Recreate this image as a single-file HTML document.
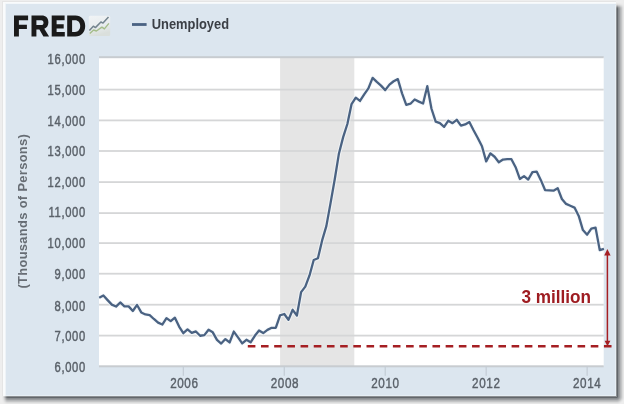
<!DOCTYPE html><html><head><meta charset="utf-8"><style>
html,body{margin:0;padding:0;width:624px;height:404px;overflow:hidden;background:#eeeeee}
svg{position:absolute;left:0;top:0;display:block;will-change:transform}
</style></head><body>
<svg width="624" height="404" viewBox="0 0 624 404" shape-rendering="auto">
<defs>
<linearGradient id="ico" x1="0" x2="0.3" y1="0" y2="1"><stop offset="0" stop-color="#f1f4f6"/><stop offset="0.6" stop-color="#e8ecee"/><stop offset="1" stop-color="#dadfdc"/></linearGradient>
</defs>
<rect x="0" y="0" width="624" height="404" fill="#eeeeee"/>
<rect x="2" y="1" width="614" height="395" fill="#e5e5e5"/>
<rect x="3" y="2" width="613" height="394" fill="#f9fbfc"/>
<rect x="5" y="3.5" width="611" height="392.5" fill="#eef3f7"/>
<rect x="616" y="9" width="1" height="387" fill="#8c8f92"/>
<rect x="616" y="3" width="1" height="1" fill="#e9e9e9"/>
<rect x="616" y="4" width="1" height="1" fill="#dfe0e0"/>
<rect x="616" y="5" width="1" height="1" fill="#cccdce"/>
<rect x="616" y="6" width="1" height="1" fill="#b3b5b7"/>
<rect x="616" y="7" width="1" height="1" fill="#9b9d9f"/>
<rect x="616" y="8" width="1" height="1" fill="#8f9294"/>
<rect x="617" y="9" width="1" height="387" fill="#62666a"/>
<rect x="617" y="3" width="1" height="1" fill="#e7e7e7"/>
<rect x="617" y="4" width="1" height="1" fill="#d9dada"/>
<rect x="617" y="5" width="1" height="1" fill="#bdbec0"/>
<rect x="617" y="6" width="1" height="1" fill="#9a9c9f"/>
<rect x="617" y="7" width="1" height="1" fill="#777a7e"/>
<rect x="617" y="8" width="1" height="1" fill="#666a6e"/>
<rect x="618" y="9" width="1" height="387" fill="#898c8f"/>
<rect x="618" y="3" width="1" height="1" fill="#e9e9e9"/>
<rect x="618" y="4" width="1" height="1" fill="#dfdfe0"/>
<rect x="618" y="5" width="1" height="1" fill="#cbcccd"/>
<rect x="618" y="6" width="1" height="1" fill="#b2b3b5"/>
<rect x="618" y="7" width="1" height="1" fill="#989b9d"/>
<rect x="618" y="8" width="1" height="1" fill="#8c8f92"/>
<rect x="619" y="9" width="1" height="387" fill="#9a9c9f"/>
<rect x="619" y="3" width="1" height="1" fill="#eaeaea"/>
<rect x="619" y="4" width="1" height="1" fill="#e1e2e2"/>
<rect x="619" y="5" width="1" height="1" fill="#d1d1d2"/>
<rect x="619" y="6" width="1" height="1" fill="#bcbdbe"/>
<rect x="619" y="7" width="1" height="1" fill="#a7a9ab"/>
<rect x="619" y="8" width="1" height="1" fill="#9d9fa1"/>
<rect x="620" y="9" width="1" height="387" fill="#b3b5b7"/>
<rect x="620" y="3" width="1" height="1" fill="#ebebeb"/>
<rect x="620" y="4" width="1" height="1" fill="#e5e5e6"/>
<rect x="620" y="5" width="1" height="1" fill="#d9dadb"/>
<rect x="620" y="6" width="1" height="1" fill="#cbcccd"/>
<rect x="620" y="7" width="1" height="1" fill="#bcbdbf"/>
<rect x="620" y="8" width="1" height="1" fill="#b5b7b8"/>
<rect x="621" y="9" width="1" height="387" fill="#c4c5c6"/>
<rect x="621" y="3" width="1" height="1" fill="#ececec"/>
<rect x="621" y="4" width="1" height="1" fill="#e8e8e8"/>
<rect x="621" y="5" width="1" height="1" fill="#dfe0e0"/>
<rect x="621" y="6" width="1" height="1" fill="#d5d6d6"/>
<rect x="621" y="7" width="1" height="1" fill="#cacbcc"/>
<rect x="621" y="8" width="1" height="1" fill="#c5c6c8"/>
<rect x="622" y="9" width="1" height="387" fill="#d9dada"/>
<rect x="622" y="3" width="1" height="1" fill="#ededed"/>
<rect x="622" y="4" width="1" height="1" fill="#ebebeb"/>
<rect x="622" y="5" width="1" height="1" fill="#e7e7e7"/>
<rect x="622" y="6" width="1" height="1" fill="#e1e2e2"/>
<rect x="622" y="7" width="1" height="1" fill="#dcdddd"/>
<rect x="622" y="8" width="1" height="1" fill="#dadadb"/>
<rect x="623" y="9" width="1" height="387" fill="#e6e6e6"/>
<rect x="623" y="3" width="1" height="1" fill="#eeeeee"/>
<rect x="623" y="4" width="1" height="1" fill="#ededed"/>
<rect x="623" y="5" width="1" height="1" fill="#ebebeb"/>
<rect x="623" y="6" width="1" height="1" fill="#e9e9e9"/>
<rect x="623" y="7" width="1" height="1" fill="#e7e7e7"/>
<rect x="623" y="8" width="1" height="1" fill="#e6e6e6"/>
<rect x="8" y="396" width="608" height="1" fill="#8c8f92"/>
<rect x="2" y="396" width="1" height="1" fill="#e9e9e9"/>
<rect x="3" y="396" width="1" height="1" fill="#dfe0e0"/>
<rect x="4" y="396" width="1" height="1" fill="#cccdce"/>
<rect x="5" y="396" width="1" height="1" fill="#b3b5b7"/>
<rect x="6" y="396" width="1" height="1" fill="#9b9d9f"/>
<rect x="7" y="396" width="1" height="1" fill="#8f9294"/>
<rect x="8" y="397" width="608" height="1" fill="#62666a"/>
<rect x="2" y="397" width="1" height="1" fill="#e7e7e7"/>
<rect x="3" y="397" width="1" height="1" fill="#d9dada"/>
<rect x="4" y="397" width="1" height="1" fill="#bdbec0"/>
<rect x="5" y="397" width="1" height="1" fill="#9a9c9f"/>
<rect x="6" y="397" width="1" height="1" fill="#777a7e"/>
<rect x="7" y="397" width="1" height="1" fill="#666a6e"/>
<rect x="8" y="398" width="608" height="1" fill="#898c8f"/>
<rect x="2" y="398" width="1" height="1" fill="#e9e9e9"/>
<rect x="3" y="398" width="1" height="1" fill="#dfdfe0"/>
<rect x="4" y="398" width="1" height="1" fill="#cbcccd"/>
<rect x="5" y="398" width="1" height="1" fill="#b2b3b5"/>
<rect x="6" y="398" width="1" height="1" fill="#989b9d"/>
<rect x="7" y="398" width="1" height="1" fill="#8c8f92"/>
<rect x="8" y="399" width="608" height="1" fill="#9a9c9f"/>
<rect x="2" y="399" width="1" height="1" fill="#eaeaea"/>
<rect x="3" y="399" width="1" height="1" fill="#e1e2e2"/>
<rect x="4" y="399" width="1" height="1" fill="#d1d1d2"/>
<rect x="5" y="399" width="1" height="1" fill="#bcbdbe"/>
<rect x="6" y="399" width="1" height="1" fill="#a7a9ab"/>
<rect x="7" y="399" width="1" height="1" fill="#9d9fa1"/>
<rect x="8" y="400" width="608" height="1" fill="#b3b5b7"/>
<rect x="2" y="400" width="1" height="1" fill="#ebebeb"/>
<rect x="3" y="400" width="1" height="1" fill="#e5e5e6"/>
<rect x="4" y="400" width="1" height="1" fill="#d9dadb"/>
<rect x="5" y="400" width="1" height="1" fill="#cbcccd"/>
<rect x="6" y="400" width="1" height="1" fill="#bcbdbf"/>
<rect x="7" y="400" width="1" height="1" fill="#b5b7b8"/>
<rect x="8" y="401" width="608" height="1" fill="#c4c5c6"/>
<rect x="2" y="401" width="1" height="1" fill="#ececec"/>
<rect x="3" y="401" width="1" height="1" fill="#e8e8e8"/>
<rect x="4" y="401" width="1" height="1" fill="#dfe0e0"/>
<rect x="5" y="401" width="1" height="1" fill="#d5d6d6"/>
<rect x="6" y="401" width="1" height="1" fill="#cacbcc"/>
<rect x="7" y="401" width="1" height="1" fill="#c5c6c8"/>
<rect x="8" y="402" width="608" height="1" fill="#d9dada"/>
<rect x="2" y="402" width="1" height="1" fill="#ededed"/>
<rect x="3" y="402" width="1" height="1" fill="#ebebeb"/>
<rect x="4" y="402" width="1" height="1" fill="#e7e7e7"/>
<rect x="5" y="402" width="1" height="1" fill="#e1e2e2"/>
<rect x="6" y="402" width="1" height="1" fill="#dcdddd"/>
<rect x="7" y="402" width="1" height="1" fill="#dadadb"/>
<rect x="8" y="403" width="608" height="1" fill="#e6e6e6"/>
<rect x="2" y="403" width="1" height="1" fill="#eeeeee"/>
<rect x="3" y="403" width="1" height="1" fill="#ededed"/>
<rect x="4" y="403" width="1" height="1" fill="#ebebeb"/>
<rect x="5" y="403" width="1" height="1" fill="#e9e9e9"/>
<rect x="6" y="403" width="1" height="1" fill="#e7e7e7"/>
<rect x="7" y="403" width="1" height="1" fill="#e6e6e6"/>
<rect x="616" y="396" width="1" height="1" fill="#8c8f92"/>
<rect x="616" y="397" width="1" height="1" fill="#62666a"/>
<rect x="616" y="398" width="1" height="1" fill="#898c8f"/>
<rect x="616" y="399" width="1" height="1" fill="#9a9c9f"/>
<rect x="616" y="400" width="1" height="1" fill="#b3b5b7"/>
<rect x="616" y="401" width="1" height="1" fill="#c4c5c6"/>
<rect x="616" y="402" width="1" height="1" fill="#d9dada"/>
<rect x="616" y="403" width="1" height="1" fill="#e6e6e6"/>
<rect x="617" y="396" width="1" height="1" fill="#62666a"/>
<rect x="617" y="397" width="1" height="1" fill="#727679"/>
<rect x="617" y="398" width="1" height="1" fill="#8d9093"/>
<rect x="617" y="399" width="1" height="1" fill="#9ea0a3"/>
<rect x="617" y="400" width="1" height="1" fill="#b5b7b9"/>
<rect x="617" y="401" width="1" height="1" fill="#c6c7c8"/>
<rect x="617" y="402" width="1" height="1" fill="#dadbdb"/>
<rect x="617" y="403" width="1" height="1" fill="#e6e6e7"/>
<rect x="618" y="396" width="1" height="1" fill="#898c8f"/>
<rect x="618" y="397" width="1" height="1" fill="#8d9093"/>
<rect x="618" y="398" width="1" height="1" fill="#979a9c"/>
<rect x="618" y="399" width="1" height="1" fill="#a9abad"/>
<rect x="618" y="400" width="1" height="1" fill="#bbbdbe"/>
<rect x="618" y="401" width="1" height="1" fill="#cccdce"/>
<rect x="618" y="402" width="1" height="1" fill="#dddede"/>
<rect x="618" y="403" width="1" height="1" fill="#e8e8e8"/>
<rect x="619" y="396" width="1" height="1" fill="#9a9c9f"/>
<rect x="619" y="397" width="1" height="1" fill="#9ea0a3"/>
<rect x="619" y="398" width="1" height="1" fill="#a9abad"/>
<rect x="619" y="399" width="1" height="1" fill="#b7b9ba"/>
<rect x="619" y="400" width="1" height="1" fill="#c4c5c6"/>
<rect x="619" y="401" width="1" height="1" fill="#d5d6d7"/>
<rect x="619" y="402" width="1" height="1" fill="#e2e2e3"/>
<rect x="619" y="403" width="1" height="1" fill="#ebebeb"/>
<rect x="620" y="396" width="1" height="1" fill="#b3b5b7"/>
<rect x="620" y="397" width="1" height="1" fill="#b5b7b9"/>
<rect x="620" y="398" width="1" height="1" fill="#bbbdbe"/>
<rect x="620" y="399" width="1" height="1" fill="#c4c5c6"/>
<rect x="620" y="400" width="1" height="1" fill="#d2d3d3"/>
<rect x="620" y="401" width="1" height="1" fill="#dedfdf"/>
<rect x="620" y="402" width="1" height="1" fill="#e7e8e8"/>
<rect x="620" y="403" width="1" height="1" fill="#eeeeee"/>
<rect x="621" y="396" width="1" height="1" fill="#c4c5c6"/>
<rect x="621" y="397" width="1" height="1" fill="#c6c7c8"/>
<rect x="621" y="398" width="1" height="1" fill="#cccdce"/>
<rect x="621" y="399" width="1" height="1" fill="#d5d6d7"/>
<rect x="621" y="400" width="1" height="1" fill="#dedfdf"/>
<rect x="621" y="401" width="1" height="1" fill="#e6e6e7"/>
<rect x="621" y="402" width="1" height="1" fill="#ececec"/>
<rect x="621" y="403" width="1" height="1" fill="#eeeeee"/>
<rect x="622" y="396" width="1" height="1" fill="#d9dada"/>
<rect x="622" y="397" width="1" height="1" fill="#dadbdb"/>
<rect x="622" y="398" width="1" height="1" fill="#dddede"/>
<rect x="622" y="399" width="1" height="1" fill="#e2e2e3"/>
<rect x="622" y="400" width="1" height="1" fill="#e7e8e8"/>
<rect x="622" y="401" width="1" height="1" fill="#ececec"/>
<rect x="622" y="402" width="1" height="1" fill="#eeeeee"/>
<rect x="622" y="403" width="1" height="1" fill="#eeeeee"/>
<rect x="623" y="396" width="1" height="1" fill="#e6e6e6"/>
<rect x="623" y="397" width="1" height="1" fill="#e6e6e7"/>
<rect x="623" y="398" width="1" height="1" fill="#e8e8e8"/>
<rect x="623" y="399" width="1" height="1" fill="#ebebeb"/>
<rect x="623" y="400" width="1" height="1" fill="#eeeeee"/>
<rect x="623" y="401" width="1" height="1" fill="#eeeeee"/>
<rect x="623" y="402" width="1" height="1" fill="#eeeeee"/>
<rect x="623" y="403" width="1" height="1" fill="#eeeeee"/>
<rect x="6" y="4" width="610" height="392" fill="#dce6ef"/>
<rect x="615" y="5" width="1" height="391" fill="#e6eef4"/>
<rect x="6" y="395" width="610" height="1" fill="#e6eef4"/>
<rect x="99.0" y="57.2" width="504.70000000000005" height="309.1" fill="#ffffff"/>
<rect x="280.1" y="57.2" width="74.2" height="309.1" fill="#e5e5e5"/>
<rect x="99.0" y="56.20" width="504.70000000000005" height="2.0" fill="#c8ccd0"/>
<rect x="99.0" y="88.70" width="504.70000000000005" height="1.8" fill="#d5d6d7"/>
<rect x="99.0" y="119.50" width="504.70000000000005" height="1.8" fill="#d5d6d7"/>
<rect x="99.0" y="150.10" width="504.70000000000005" height="1.8" fill="#d5d6d7"/>
<rect x="99.0" y="181.20" width="504.70000000000005" height="1.8" fill="#d5d6d7"/>
<rect x="99.0" y="212.20" width="504.70000000000005" height="1.8" fill="#d5d6d7"/>
<rect x="99.0" y="242.20" width="504.70000000000005" height="1.8" fill="#d5d6d7"/>
<rect x="99.0" y="272.80" width="504.70000000000005" height="1.8" fill="#d5d6d7"/>
<rect x="99.0" y="303.80" width="504.70000000000005" height="1.8" fill="#d5d6d7"/>
<rect x="99.0" y="334.70" width="504.70000000000005" height="1.8" fill="#d5d6d7"/>
<rect x="99.0" y="365.30" width="504.70000000000005" height="2.0" fill="#c8ccd0"/>
<rect x="182.72" y="366.3" width="1.2" height="9.5" fill="#c3ccd5"/>
<text x="0" y="0" text-anchor="middle" font-family="Liberation Sans, sans-serif" font-size="14.6" letter-spacing="0.75" fill="#5a6169" stroke="#5a6169" stroke-width="0.42" transform="translate(184.35 387.9) scale(0.8 1)">2006</text>
<rect x="283.67" y="366.3" width="1.2" height="9.5" fill="#c3ccd5"/>
<text x="0" y="0" text-anchor="middle" font-family="Liberation Sans, sans-serif" font-size="14.6" letter-spacing="0.75" fill="#5a6169" stroke="#5a6169" stroke-width="0.42" transform="translate(284.90 387.9) scale(0.8 1)">2008</text>
<rect x="384.62" y="366.3" width="1.2" height="9.5" fill="#c3ccd5"/>
<text x="0" y="0" text-anchor="middle" font-family="Liberation Sans, sans-serif" font-size="14.6" letter-spacing="0.75" fill="#5a6169" stroke="#5a6169" stroke-width="0.42" transform="translate(385.45 387.9) scale(0.8 1)">2010</text>
<rect x="485.58" y="366.3" width="1.2" height="9.5" fill="#c3ccd5"/>
<text x="0" y="0" text-anchor="middle" font-family="Liberation Sans, sans-serif" font-size="14.6" letter-spacing="0.75" fill="#5a6169" stroke="#5a6169" stroke-width="0.42" transform="translate(486.30 387.9) scale(0.8 1)">2012</text>
<rect x="586.53" y="366.3" width="1.2" height="9.5" fill="#c3ccd5"/>
<text x="0" y="0" text-anchor="middle" font-family="Liberation Sans, sans-serif" font-size="14.6" letter-spacing="0.75" fill="#5a6169" stroke="#5a6169" stroke-width="0.42" transform="translate(587.15 387.9) scale(0.8 1)">2014</text>
<text x="0" y="0" text-anchor="end" font-family="Liberation Sans, sans-serif" font-size="14" letter-spacing="0.85" fill="#5a6169" stroke="#5a6169" stroke-width="0.45" transform="translate(85.9 64.3) scale(0.8 1)">16,000</text>
<text x="0" y="0" text-anchor="end" font-family="Liberation Sans, sans-serif" font-size="14" letter-spacing="0.85" fill="#5a6169" stroke="#5a6169" stroke-width="0.45" transform="translate(85.9 95.2) scale(0.8 1)">15,000</text>
<text x="0" y="0" text-anchor="end" font-family="Liberation Sans, sans-serif" font-size="14" letter-spacing="0.85" fill="#5a6169" stroke="#5a6169" stroke-width="0.45" transform="translate(85.9 125.6) scale(0.8 1)">14,000</text>
<text x="0" y="0" text-anchor="end" font-family="Liberation Sans, sans-serif" font-size="14" letter-spacing="0.85" fill="#5a6169" stroke="#5a6169" stroke-width="0.45" transform="translate(85.9 156.0) scale(0.8 1)">13,000</text>
<text x="0" y="0" text-anchor="end" font-family="Liberation Sans, sans-serif" font-size="14" letter-spacing="0.85" fill="#5a6169" stroke="#5a6169" stroke-width="0.45" transform="translate(85.9 186.7) scale(0.8 1)">12,000</text>
<text x="0" y="0" text-anchor="end" font-family="Liberation Sans, sans-serif" font-size="14" letter-spacing="0.85" fill="#5a6169" stroke="#5a6169" stroke-width="0.45" transform="translate(85.9 217.2) scale(0.8 1)">11,000</text>
<text x="0" y="0" text-anchor="end" font-family="Liberation Sans, sans-serif" font-size="14" letter-spacing="0.85" fill="#5a6169" stroke="#5a6169" stroke-width="0.45" transform="translate(85.9 248.2) scale(0.8 1)">10,000</text>
<text x="0" y="0" text-anchor="end" font-family="Liberation Sans, sans-serif" font-size="14" letter-spacing="0.85" fill="#5a6169" stroke="#5a6169" stroke-width="0.45" transform="translate(85.9 279.2) scale(0.8 1)">9,000</text>
<text x="0" y="0" text-anchor="end" font-family="Liberation Sans, sans-serif" font-size="14" letter-spacing="0.85" fill="#5a6169" stroke="#5a6169" stroke-width="0.45" transform="translate(85.9 310.5) scale(0.8 1)">8,000</text>
<text x="0" y="0" text-anchor="end" font-family="Liberation Sans, sans-serif" font-size="14" letter-spacing="0.85" fill="#5a6169" stroke="#5a6169" stroke-width="0.45" transform="translate(85.9 341.0) scale(0.8 1)">7,000</text>
<text x="0" y="0" text-anchor="end" font-family="Liberation Sans, sans-serif" font-size="14" letter-spacing="0.85" fill="#5a6169" stroke="#5a6169" stroke-width="0.45" transform="translate(85.9 372.1) scale(0.8 1)">6,000</text>
<text x="0" y="0" text-anchor="middle" font-family="Liberation Sans, sans-serif" font-size="12.9" font-weight="bold" letter-spacing="0.33" fill="#676d74" transform="translate(27.2 211.2) rotate(-90)">(Thousands of Persons)</text>
<path d="M99.19,297.80 L103.40,295.52 L107.61,300.14 L111.81,304.64 L116.02,306.58 L120.22,302.45 L124.43,306.42 L128.64,306.36 L132.84,310.98 L137.05,304.94 L141.26,312.43 L145.46,314.43 L149.67,315.08 L153.88,318.99 L158.08,322.63 L162.29,324.51 L166.49,318.10 L170.70,321.18 L174.91,317.70 L179.11,326.54 L183.32,333.17 L187.53,329.47 L191.73,332.92 L195.94,331.44 L200.15,335.75 L204.35,335.11 L208.56,329.75 L212.76,332.33 L216.97,339.85 L221.18,343.55 L225.38,339.08 L229.59,342.47 L233.80,331.56 L238.00,337.39 L242.21,343.42 L246.41,339.76 L250.62,342.35 L254.83,335.78 L259.03,330.55 L263.24,333.07 L267.45,329.90 L271.65,327.84 L275.86,327.74 L280.07,315.27 L284.27,314.03 L288.48,319.82 L292.68,309.81 L296.89,315.51 L301.10,292.16 L305.30,286.61 L309.51,275.46 L313.72,260.02 L317.92,258.30 L322.13,240.43 L326.34,226.13 L330.54,203.09 L334.75,179.31 L338.95,153.43 L343.16,137.16 L347.37,124.00 L351.57,104.10 L355.78,97.69 L359.99,100.96 L364.19,94.40 L368.40,88.39 L372.61,77.82 L376.81,81.92 L381.02,85.65 L385.22,90.11 L389.43,84.66 L393.64,81.27 L397.84,79.11 L402.05,93.32 L406.26,104.87 L410.46,103.70 L414.67,99.51 L418.87,101.64 L423.08,103.58 L427.29,86.17 L431.49,108.75 L435.70,121.63 L439.91,123.17 L444.11,126.87 L448.32,120.71 L452.53,123.17 L456.73,119.78 L460.94,125.64 L465.14,124.40 L469.35,121.94 L473.56,130.26 L477.76,137.96 L481.97,146.28 L486.18,161.37 L490.38,153.36 L494.59,156.75 L498.80,162.30 L503.00,159.53 L507.21,159.22 L511.41,159.22 L515.62,167.23 L519.83,178.94 L524.03,176.16 L528.24,179.55 L532.45,172.16 L536.65,171.54 L540.86,180.17 L545.06,190.03 L549.27,190.33 L553.48,190.64 L557.68,188.18 L561.89,198.96 L566.10,203.89 L570.30,205.74 L574.51,207.59 L578.72,215.91 L582.92,230.08 L587.13,234.70 L591.33,228.54 L595.54,227.61 L599.75,250.10 L603.95,248.87" fill="none" stroke="#f4f8fb" stroke-opacity="0.7" stroke-width="4.4" stroke-linejoin="round" stroke-linecap="butt"/>
<path d="M99.19,297.80 L103.40,295.52 L107.61,300.14 L111.81,304.64 L116.02,306.58 L120.22,302.45 L124.43,306.42 L128.64,306.36 L132.84,310.98 L137.05,304.94 L141.26,312.43 L145.46,314.43 L149.67,315.08 L153.88,318.99 L158.08,322.63 L162.29,324.51 L166.49,318.10 L170.70,321.18 L174.91,317.70 L179.11,326.54 L183.32,333.17 L187.53,329.47 L191.73,332.92 L195.94,331.44 L200.15,335.75 L204.35,335.11 L208.56,329.75 L212.76,332.33 L216.97,339.85 L221.18,343.55 L225.38,339.08 L229.59,342.47 L233.80,331.56 L238.00,337.39 L242.21,343.42 L246.41,339.76 L250.62,342.35 L254.83,335.78 L259.03,330.55 L263.24,333.07 L267.45,329.90 L271.65,327.84 L275.86,327.74 L280.07,315.27 L284.27,314.03 L288.48,319.82 L292.68,309.81 L296.89,315.51 L301.10,292.16 L305.30,286.61 L309.51,275.46 L313.72,260.02 L317.92,258.30 L322.13,240.43 L326.34,226.13 L330.54,203.09 L334.75,179.31 L338.95,153.43 L343.16,137.16 L347.37,124.00 L351.57,104.10 L355.78,97.69 L359.99,100.96 L364.19,94.40 L368.40,88.39 L372.61,77.82 L376.81,81.92 L381.02,85.65 L385.22,90.11 L389.43,84.66 L393.64,81.27 L397.84,79.11 L402.05,93.32 L406.26,104.87 L410.46,103.70 L414.67,99.51 L418.87,101.64 L423.08,103.58 L427.29,86.17 L431.49,108.75 L435.70,121.63 L439.91,123.17 L444.11,126.87 L448.32,120.71 L452.53,123.17 L456.73,119.78 L460.94,125.64 L465.14,124.40 L469.35,121.94 L473.56,130.26 L477.76,137.96 L481.97,146.28 L486.18,161.37 L490.38,153.36 L494.59,156.75 L498.80,162.30 L503.00,159.53 L507.21,159.22 L511.41,159.22 L515.62,167.23 L519.83,178.94 L524.03,176.16 L528.24,179.55 L532.45,172.16 L536.65,171.54 L540.86,180.17 L545.06,190.03 L549.27,190.33 L553.48,190.64 L557.68,188.18 L561.89,198.96 L566.10,203.89 L570.30,205.74 L574.51,207.59 L578.72,215.91 L582.92,230.08 L587.13,234.70 L591.33,228.54 L595.54,227.61 L599.75,250.10 L603.95,248.87" fill="none" stroke="#4a6282" stroke-width="2.3" stroke-linejoin="round" stroke-linecap="butt"/>
<line x1="247.8" y1="346.3" x2="612" y2="346.3" stroke="#a51f23" stroke-width="2.6" stroke-dasharray="7.6 5.59"/>
<line x1="607.4" y1="254" x2="607.4" y2="342" stroke="#a51f23" stroke-width="1.5"/>
<path d="M607.4,248.9 L604.2,255.4 L610.6,255.4 Z" fill="#a51f23"/>
<path d="M607.5,346.3 L604.6,340.8 L610.4,340.8 Z" fill="#a51f23"/>
<text x="0" y="0" font-family="Liberation Sans, sans-serif" font-size="18.2" font-weight="bold" fill="#9e1c21" transform="translate(521.4 302.6) scale(0.943 1)">3 million</text>
<path fill="#1a1a1a" d="M14,15.6 H28.1 V20.3 H18.9 V24.7 H26.9 V29.0 H18.9 V36.6 H14 Z"/>
<path fill="#1a1a1a" fill-rule="evenodd" d="M31.5,15.6 H41.6 C45.9,15.6 48.4,18.3 48.4,22.4 C48.4,25.4 46.8,27.7 44.3,28.7 L49.1,36.6 H43.4 L39.4,29.6 H36.4 V36.6 H31.5 Z M36.4,20.3 V25.1 H41.2 C42.8,25.1 43.5,24.1 43.5,22.7 C43.5,21.3 42.8,20.3 41.2,20.3 Z"/>
<path fill="#1a1a1a" d="M51.7,15.6 H64.6 V20.3 H56.6 V24.2 H63.7 V28.6 H56.6 V32.0 H64.8 V36.6 H51.7 Z"/>
<path fill="#1a1a1a" fill-rule="evenodd" d="M67.2,15.6 H75.4 C81.3,15.6 85.2,19.8 85.2,26.1 C85.2,32.4 81.3,36.6 75.4,36.6 H67.2 Z M72.1,20.3 V31.9 H75 C78.2,31.9 80.2,29.6 80.2,26.1 C80.2,22.6 78.2,20.3 75,20.3 Z"/>
<rect x="88.8" y="15.8" width="21.4" height="20.2" rx="1.5" fill="url(#ico)"/>
<polyline points="89.8,33.6 93.6,30 96.4,31 101.9,27.2 104.4,28.9 108.9,23.4" fill="none" stroke="#a5bd8a" stroke-width="1.4" stroke-linejoin="round"/>
<polyline points="89.4,30.4 93.3,26.2 95.4,27.6 100.9,22.0 103,23.1 108.5,16.9" fill="none" stroke="#74848e" stroke-width="1.5" stroke-linejoin="round"/>
<rect x="132" y="23.1" width="14.6" height="2.8" fill="#4a6282"/>
<text x="0" y="0" font-family="Liberation Sans, sans-serif" font-size="14" font-weight="bold" fill="#3b3f45" transform="translate(151.7 28.8) scale(0.922 1)">Unemployed</text>
</svg></body></html>
